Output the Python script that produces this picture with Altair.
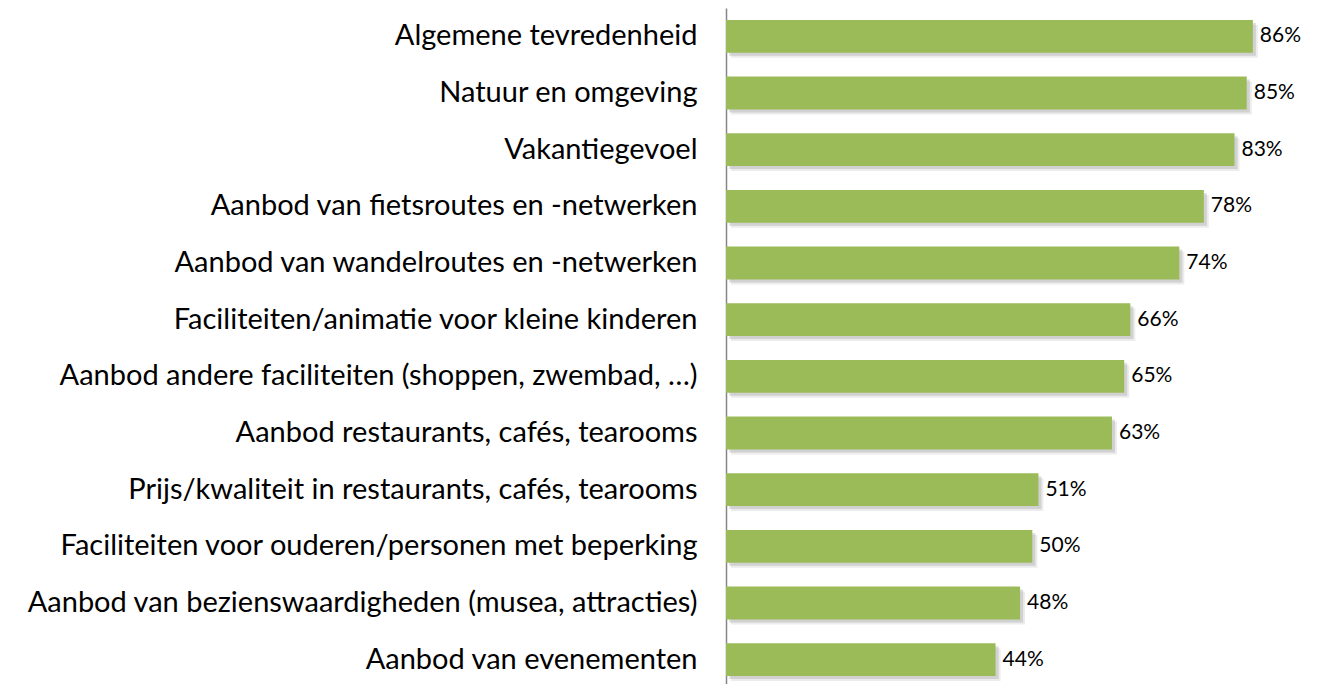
import altair as alt
import pandas as pd

categories = [
    "Algemene tevredenheid",
    "Natuur en omgeving",
    "Vakantiegevoel",
    "Aanbod van fietsroutes en -netwerken",
    "Aanbod van wandelroutes en -netwerken",
    "Faciliteiten/animatie voor kleine kinderen",
    "Aanbod andere faciliteiten (shoppen, zwembad, …)",
    "Aanbod restaurants, cafés, tearooms",
    "Prijs/kwaliteit in restaurants, cafés, tearooms",
    "Faciliteiten voor ouderen/personen met beperking",
    "Aanbod van bezienswaardigheden (musea, attracties)",
    "Aanbod van evenementen",
]
values = [86, 85, 83, 78, 74, 66, 65, 63, 51, 50, 48, 44]
labels = [f"{v}%" for v in values]

df = pd.DataFrame({"cat": categories, "val": values, "lab": labels})

FONT = "Lato"

y_enc = alt.Y(
    "cat:N",
    sort=categories,
    scale=alt.Scale(paddingInner=0.42, paddingOuter=0.21),
    axis=alt.Axis(
        title=None,
        domain=True,
        domainColor="#868686",
        domainWidth=1.5,
        ticks=False,
        grid=False,
        labelFont=FONT,
        labelFontSize=29,
        labelColor="#000000",
        labelPadding=29,
        labelLimit=900,
    ),
)
x_enc = alt.X("val:Q", scale=alt.Scale(domain=[0, 95], nice=False, zero=True), axis=None)

base = alt.Chart(df).encode(y=y_enc, x=x_enc)

shadow1 = base.mark_bar(color="#7f7f7f", opacity=0.15, xOffset=5, yOffset=5)
shadow2 = base.mark_bar(color="#7f7f7f", opacity=0.25, xOffset=3, yOffset=3)
bars = base.mark_bar(color="#9BBB59")
text = base.mark_text(
    align="left", baseline="middle", dx=7, font=FONT, fontSize=21, color="#000000"
).encode(text="lab:N")

chart = (
    alt.layer(shadow1, shadow2, bars, text)
    .properties(
        width=582,
        height=680,
        background="#ffffff",
        autosize=alt.AutoSizeParams(type="none"),
        padding={"left": 718, "top": 0, "right": 0, "bottom": 0},
    )
    .configure_axis(grid=False)
    .configure_view(stroke="transparent", strokeWidth=0)
)

chart.save("out.html", embed_options={"renderer": "svg", "actions": False})
